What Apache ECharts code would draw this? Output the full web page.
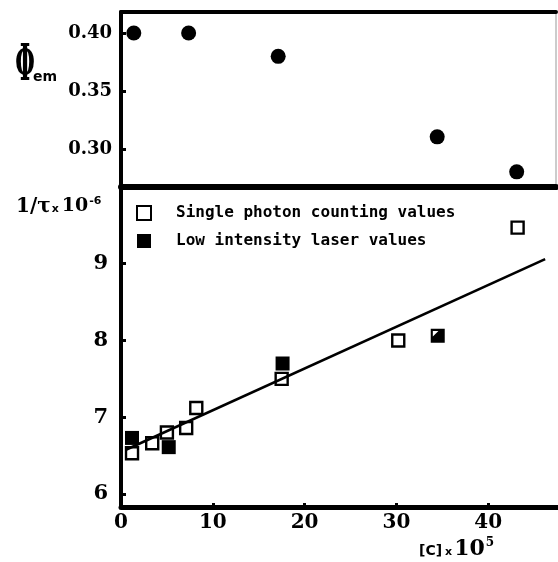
<!DOCTYPE html>
<html>
<head>
<meta charset="utf-8">
<script src="https://cdn.jsdelivr.net/npm/echarts@6/dist/echarts.min.js"></script>
<style>
  html, body { margin: 0; padding: 0; background: #fff; }
  #chart { width: 558px; height: 562px; }
</style>
</head>
<body>
<div id="chart"></div>
<script>
  // quantum yield vs concentration (top panel)
  var phiX = [1.4, 7.4, 17.2, 34.6, 43.3];
  var phiY = [0.400, 0.400, 0.380, 0.311, 0.281];
  // 1/tau, single photon counting (open squares)
  var spcX = [1.2, 3.4, 5.0, 7.1, 8.2, 17.5, 30.2, 43.2];
  var spcY = [6.53, 6.66, 6.80, 6.86, 7.12, 7.50, 8.00, 9.47];
  // 1/tau, low intensity laser (filled squares)
  var laserX = [1.2, 5.2, 17.6];
  var laserY = [6.73, 6.61, 7.70];
  // point where both methods coincide (half filled square)
  var bothX = [34.5];
  var bothY = [8.06];
  // least squares line end points
  var fitX = [0.6, 46.2];
  var fitY = [6.58, 9.06];

  var xTicks = [0, 10, 20, 30, 40];
  var phiTicks = [0.30, 0.35, 0.40];
  var tauTicks = [6, 7, 8, 9];

  function zip(xs, ys) { return xs.map(function (x, i) { return [x, ys[i]]; }); }

  var SERIF = "'DejaVu Serif', serif";
  var SANS = "'DejaVu Sans', sans-serif";
  var MONO = "'DejaVu Sans Mono', monospace";
  var HALF = "path://M0,0L10,0L10,10L0,10ZM1.5,1.5L1.5,5.5L5.5,1.5Z";

  var chart = echarts.init(document.getElementById("chart"), null, { renderer: "canvas" });

  var axisLine = { show: true, lineStyle: { color: "#000", width: 4 } };

  chart.setOption({
    backgroundColor: "#fff",
    animation: false,
    grid: [
      { left: 121, top: 12, right: 2, height: 175, show: true, borderColor: "#999", borderWidth: 1, backgroundColor: "transparent" },
      { left: 121, top: 187, right: 0, bottom: 55 }
    ],
    legend: {
      data: ["Single photon counting values", "Low intensity laser values"],
      orient: "vertical", left: 136, top: 205, itemGap: 12, padding: 0,
      itemWidth: 14, itemHeight: 14,
      textStyle: { fontFamily: MONO, fontWeight: "bold", fontSize: 16, color: "#000", padding: [0, 0, 0, 20] }
    },
    xAxis: [
      { gridIndex: 0, type: "value", min: 0, max: 47.6, position: "bottom",
        axisLine: { show: true, onZero: false, lineStyle: { color: "#000", width: 6 } },
        axisTick: { show: false }, axisLabel: { show: false }, splitLine: { show: false } },
      { gridIndex: 0, type: "value", min: 0, max: 47.6, position: "top",
        axisLine: { show: true, onZero: false, lineStyle: { color: "#000", width: 4 } },
        axisTick: { show: false }, axisLabel: { show: false }, splitLine: { show: false } },
      { gridIndex: 1, type: "value", min: 0, max: 47.6, interval: 10,
        axisLine: { show: true, onZero: false, lineStyle: { color: "#000", width: 5 } },
        axisTick: { show: true, inside: true, length: 4, lineStyle: { color: "#000", width: 3 }, customValues: xTicks },
        axisLabel: { customValues: xTicks, margin: 6, color: "#000", fontFamily: SERIF, fontWeight: "bold", fontSize: 20 },
        splitLine: { show: false } }
    ],
    yAxis: [
      { gridIndex: 0, type: "value", min: 0.268, max: 0.418,
        axisLine: axisLine,
        axisTick: { show: true, inside: true, length: 5, lineStyle: { color: "#000", width: 3 }, customValues: phiTicks },
        axisLabel: { customValues: phiTicks, margin: 9, color: "#000", fontFamily: SERIF, fontWeight: "bold", fontSize: 18,
          formatter: function (v) { return v.toFixed(2); } },
        splitLine: { show: false } },
      { gridIndex: 1, type: "value", min: 5.83, max: 10.0,
        axisLine: axisLine,
        axisTick: { show: true, inside: true, length: 5, lineStyle: { color: "#000", width: 3 }, customValues: tauTicks },
        axisLabel: { customValues: tauTicks, margin: 13, color: "#000", fontFamily: SERIF, fontWeight: "bold", fontSize: 21 },
        splitLine: { show: false } }
    ],
    series: [
      { name: "phi", type: "scatter", xAxisIndex: 0, yAxisIndex: 0, symbol: "circle", symbolSize: 15,
        itemStyle: { color: "#000", opacity: 1 }, data: zip(phiX, phiY) },
      { name: "Low intensity laser values", type: "scatter", xAxisIndex: 2, yAxisIndex: 1, symbol: "rect", symbolSize: 14,
        itemStyle: { color: "#000", opacity: 1 }, data: zip(laserX, laserY), z: 2 },
      { name: "Single photon counting values", type: "scatter", xAxisIndex: 2, yAxisIndex: 1, symbol: "rect", symbolSize: 12,
        itemStyle: { color: "#fff", borderColor: "#000", borderWidth: 2.4, opacity: 1 }, data: zip(spcX, spcY), z: 3 },
      { name: "both", type: "scatter", xAxisIndex: 2, yAxisIndex: 1, symbol: HALF, symbolSize: 14,
        itemStyle: { color: "#000", opacity: 1 }, data: zip(bothX, bothY), z: 3 },
      { name: "fit", type: "line", xAxisIndex: 2, yAxisIndex: 1, showSymbol: false, symbol: "none",
        lineStyle: { color: "#000", width: 2.6 }, data: zip(fitX, fitY), z: 4 }
    ],
    graphic: [
      { type: "text", x: 25, y: 67, scaleX: 0.75, scaleY: 1.7,
        style: { text: "Φ", font: "bold 30px " + SERIF, fill: "#000", align: "center", verticalAlign: "middle" } },
      { type: "text", left: 33, top: 70, style: { text: "em", font: "bold 14px " + SANS, fill: "#000" } },
      { type: "text", left: 16, top: 196, style: {
          text: "{a|1/τ}{b|x}{c|10}{d|-6}",
          rich: {
            a: { font: "bold 20px " + SERIF, fill: "#000" },
            b: { font: "bold 11px " + SANS, fill: "#000", padding: [6, 3, 0, 1] },
            c: { font: "bold 19px " + SERIF, fill: "#000" },
            d: { font: "bold 11px " + SANS, fill: "#000", padding: [0, 0, 10, 1] }
          } } },
      { type: "text", left: 419, top: 537, style: {
          text: "{a|[C]}{b|x}{c|10}{d|5}",
          rich: {
            a: { font: "bold 14px " + SANS, fill: "#000", padding: [4, 3, 0, 0] },
            b: { font: "bold 11px " + SANS, fill: "#000", padding: [6, 2, 0, 0] },
            c: { font: "bold 22px " + SERIF, fill: "#000" },
            d: { font: "bold 12px " + SERIF, fill: "#000", padding: [0, 0, 12, 1] }
          } } }
    ]
  });
</script>
</body>
</html>
